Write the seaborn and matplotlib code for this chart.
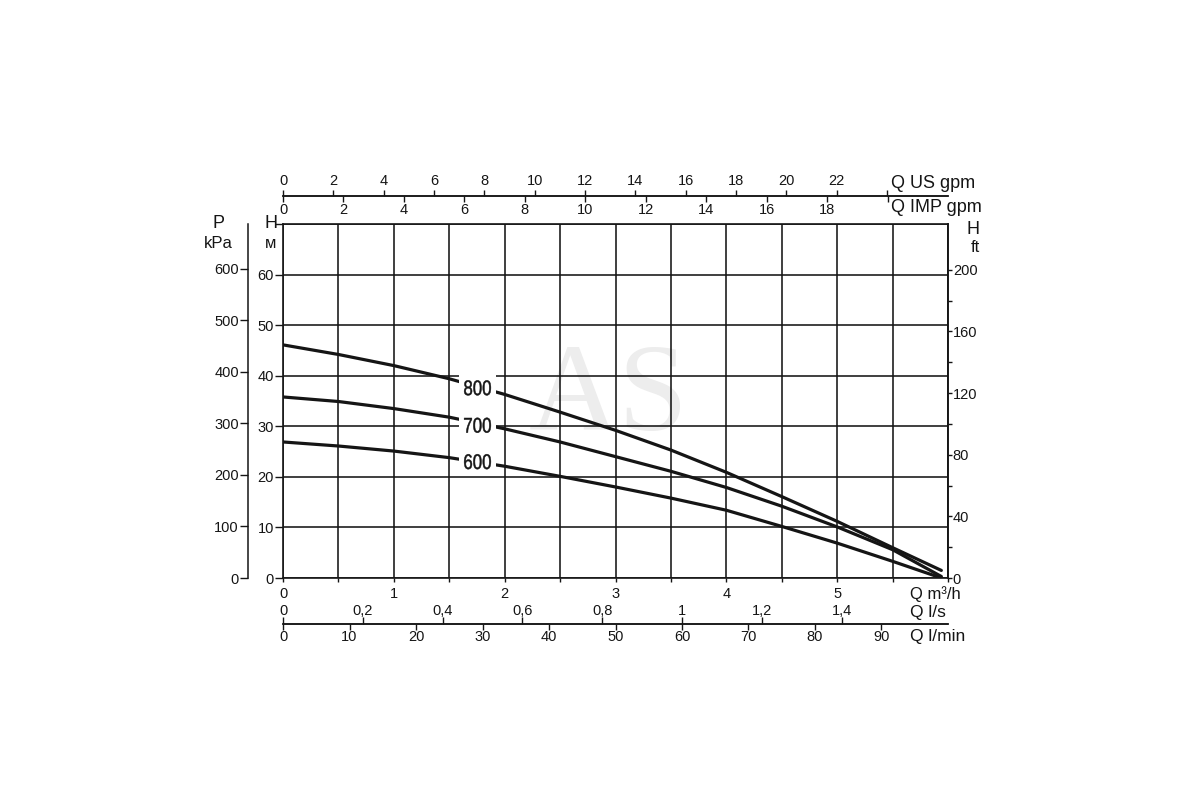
import numpy as np
import pandas as pd
import matplotlib
matplotlib.use("Agg")
import matplotlib.pyplot as plt
import matplotlib.transforms as mtransforms
import seaborn as sns
from matplotlib.textpath import TextPath
from matplotlib.patches import PathPatch, Rectangle
from matplotlib.font_manager import FontProperties

# ---------------- data ----------------
flow_m3h = [0.0, 0.5, 1.0, 1.5, 2.0, 2.5, 3.0, 3.5, 4.0, 4.5, 5.0, 5.5, 5.94]
head_800 = [46.1, 44.2, 42.0, 39.4, 36.3, 32.8, 29.2, 25.3, 20.9, 16.1, 11.2, 6.0, 1.5]
head_700 = [35.8, 34.9, 33.5, 31.8, 29.5, 26.9, 24.0, 21.1, 17.9, 14.2, 10.1, 5.6, 0.3]
head_600 = [26.9, 26.1, 25.1, 23.8, 22.1, 20.1, 18.0, 15.8, 13.4, 10.2, 6.9, 3.3, 0.0]
curve_names = ["800", "700", "600"]
label_flow = 1.755
label_heads = [37.6, 30.2, 23.0]

m3h_ticks = [0, 0.5, 1, 1.5, 2, 2.5, 3, 3.5, 4, 4.5, 5, 5.5, 6]
m3h_labels = ["0", "", "1", "", "2", "", "3", "", "4", "", "5", "", ""]
head_ticks = [0, 10, 20, 30, 40, 50, 60, 70]
head_labels = ["0", "10", "20", "30", "40", "50", "60", ""]
us_gpm_ticks = [0, 2, 4, 6, 8, 10, 12, 14, 16, 18, 20, 22, 24]
us_gpm_labels = ["0", "2", "4", "6", "8", "10", "12", "14", "16", "18", "20", "22", ""]
imp_gpm_ticks = [0, 2, 4, 6, 8, 10, 12, 14, 16, 18, 20]
imp_gpm_labels = ["0", "2", "4", "6", "8", "10", "12", "14", "16", "18", ""]
ls_ticks = [0, 0.2, 0.4, 0.6, 0.8, 1.0, 1.2, 1.4]
ls_labels = ["0", "0,2", "0,4", "0,6", "0,8", "1", "1,2", "1,4"]
lmin_ticks = [0, 10, 20, 30, 40, 50, 60, 70, 80, 90]
lmin_labels = ["0", "10", "20", "30", "40", "50", "60", "70", "80", "90"]
kpa_ticks = [0, 100, 200, 300, 400, 500, 600]
kpa_labels = ["0", "100", "200", "300", "400", "500", "600"]
ft_ticks = [0, 20, 40, 60, 80, 100, 120, 140, 160, 180, 200]
ft_labels = ["0", "", "40", "", "80", "", "120", "", "160", "", "200"]

# unit conversions
US_PER_M3H = 4.402868
IMP_PER_M3H = 3.666154
LS_PER_M3H = 1.0 / 3.6
LMIN_PER_M3H = 1000.0 / 60.0
KPA_PER_M = 9.80665
FT_PER_M = 3.28084

# ---------------- styling ----------------
sns.set_theme(style="white")
plt.rcParams["font.family"] = ["Liberation Sans", "DejaVu Sans"]

INK = "#151515"
TICK_FS = 10.5
W, H = 1200, 800
L, R, T, B = 283, 948, 224, 578

fig = plt.figure(figsize=(12, 8), dpi=100)
ax = fig.add_axes([L / W, 1 - B / H, (R - L) / W, (B - T) / H])

df = pd.concat([
    pd.DataFrame({"Q": flow_m3h, "H": h, "curve": n})
    for n, h in zip(curve_names, [head_800, head_700, head_600])
])
sns.lineplot(data=df, x="Q", y="H", hue="curve", palette=[INK] * 3,
             linewidth=2.3, legend=False, estimator=None, ax=ax, zorder=2)

ax.set_xlim(0, 6)
ax.set_ylim(0, 70)
ax.set_xlabel("")
ax.set_ylabel("")
ax.set_xticks(m3h_ticks, labels=m3h_labels)
ax.set_yticks(head_ticks, labels=head_labels)
ax.set_axisbelow(True)
ax.grid(True, color=INK, linewidth=1.15)
for s in ax.spines.values():
    s.set_color(INK)
    s.set_linewidth(1.2)
ax.tick_params(axis="x", direction="out", length=3, width=1, color=INK,
               labelsize=TICK_FS, labelcolor=INK, pad=3.5, bottom=True)
ax.tick_params(axis="y", direction="out", length=6, width=1, color=INK,
               labelsize=TICK_FS, labelcolor=INK, pad=0.5, left=True)

# watermark
ax.text(0.489, 0.418, "AS", transform=ax.transAxes, fontsize=90,
        family="Liberation Serif", color="#ededed", ha="center",
        va="baseline", zorder=0.3)

# curve labels: condensed digits drawn as text paths on a white patch
lab_prop = FontProperties(family="Liberation Sans", weight="normal")
LAB_W, LAB_H = 26.7, 15.0      # pixel size of the digit group
BOX_W, BOX_H = 37.0, 28.0      # white knock-out box in pixels
for n, hv in zip(curve_names, label_heads):
    anchor = mtransforms.ScaledTranslation(label_flow, hv, ax.transData)
    ax.add_artist(Rectangle((-BOX_W / 2, -BOX_H / 2), BOX_W, BOX_H,
                            transform=mtransforms.IdentityTransform() + anchor,
                            fc="white", ec="none", zorder=5))
    tp = TextPath((0, 0), n, size=100, prop=lab_prop)
    ext = tp.get_extents()
    tr = (mtransforms.Affine2D()
          .translate(-(ext.x0 + ext.width / 2), -(ext.y0 + ext.height / 2))
          .scale(LAB_W / ext.width, LAB_H / ext.height) + anchor)
    ax.add_artist(PathPatch(tp, transform=tr, fc=INK, ec=INK, lw=0.35,
                            zorder=6))

# ---------------- secondary scales ----------------
top_loc = (B - 196) / (B - T)
bot_loc = (B - 624) / (B - T)
kpa_loc = (248 - L) / (R - L)

sec_us = ax.secondary_xaxis(top_loc, functions=(lambda q: q * US_PER_M3H,
                                                lambda g: g / US_PER_M3H))
sec_us.set_alignment("top")
sec_us.set_xticks(us_gpm_ticks, labels=us_gpm_labels)
sec_us.tick_params(direction="out", length=4, width=1, color=INK,
                   labelsize=TICK_FS, labelcolor=INK, pad=1.5)

sec_imp = ax.secondary_xaxis(top_loc, functions=(lambda q: q * IMP_PER_M3H,
                                                 lambda g: g / IMP_PER_M3H))
sec_imp.set_alignment("bottom")
sec_imp.set_xticks(imp_gpm_ticks, labels=imp_gpm_labels)
sec_imp.tick_params(direction="out", length=4, width=1, color=INK,
                    labelsize=TICK_FS, labelcolor=INK, pad=1)

sec_ls = ax.secondary_xaxis(bot_loc, functions=(lambda q: q * LS_PER_M3H,
                                                lambda v: v / LS_PER_M3H))
sec_ls.set_alignment("top")
sec_ls.set_xticks(ls_ticks, labels=ls_labels)
sec_ls.tick_params(direction="out", length=5, width=1, color=INK,
                   labelsize=TICK_FS, labelcolor=INK, pad=-1)

sec_lmin = ax.secondary_xaxis(bot_loc, functions=(lambda q: q * LMIN_PER_M3H,
                                                  lambda v: v / LMIN_PER_M3H))
sec_lmin.set_alignment("bottom")
sec_lmin.set_xticks(lmin_ticks, labels=lmin_labels)
sec_lmin.tick_params(direction="out", length=4, width=1, color=INK,
                     labelsize=TICK_FS, labelcolor=INK, pad=0.5)

sec_kpa = ax.secondary_yaxis(kpa_loc, functions=(lambda m: m * KPA_PER_M,
                                                 lambda p: p / KPA_PER_M))
sec_kpa.set_yticks(kpa_ticks, labels=kpa_labels)
sec_kpa.tick_params(direction="out", length=6, width=1, color=INK,
                    labelsize=TICK_FS, labelcolor=INK, pad=0.5)

sec_ft = ax.secondary_yaxis("right", functions=(lambda m: m * FT_PER_M,
                                                lambda f: f / FT_PER_M))
sec_ft.set_yticks(ft_ticks, labels=ft_labels)
sec_ft.tick_params(direction="out", length=3, width=1, color=INK,
                   labelsize=TICK_FS, labelcolor=INK, pad=0.5)

for sec in (sec_us, sec_imp, sec_ls, sec_lmin, sec_kpa, sec_ft):
    for s in sec.spines.values():
        s.set_color(INK)
        s.set_linewidth(1.1)

# ---------------- unit captions ----------------
def fpx(x, y):
    return x / W, 1 - y / H

cap = dict(color=INK, va="center")
fig.text(*fpx(891, 184), "Q US gpm", ha="left", fontsize=13, **cap)
fig.text(*fpx(891, 207), "Q IMP gpm", ha="left", fontsize=13, **cap)
fig.text(*fpx(973, 229), "H", ha="center", fontsize=13, **cap)
fig.text(*fpx(975, 248), "ft", ha="center", fontsize=12, **cap)
fig.text(*fpx(219, 224), "P", ha="center", fontsize=13, **cap)
fig.text(*fpx(218, 243), "kPa", ha="center", fontsize=12, **cap)
fig.text(*fpx(271, 224), "H", ha="center", fontsize=13, **cap)
fig.text(*fpx(271, 244), "м", ha="center", fontsize=12, **cap)
fig.text(*fpx(910, 594), "Q m³/h", ha="left", fontsize=12, **cap)
fig.text(*fpx(910, 612), "Q l/s", ha="left", fontsize=12.5, **cap)
fig.text(*fpx(910, 636), "Q l/min", ha="left", fontsize=12.5, **cap)

fig.savefig("out.png", dpi=100, facecolor="white")
